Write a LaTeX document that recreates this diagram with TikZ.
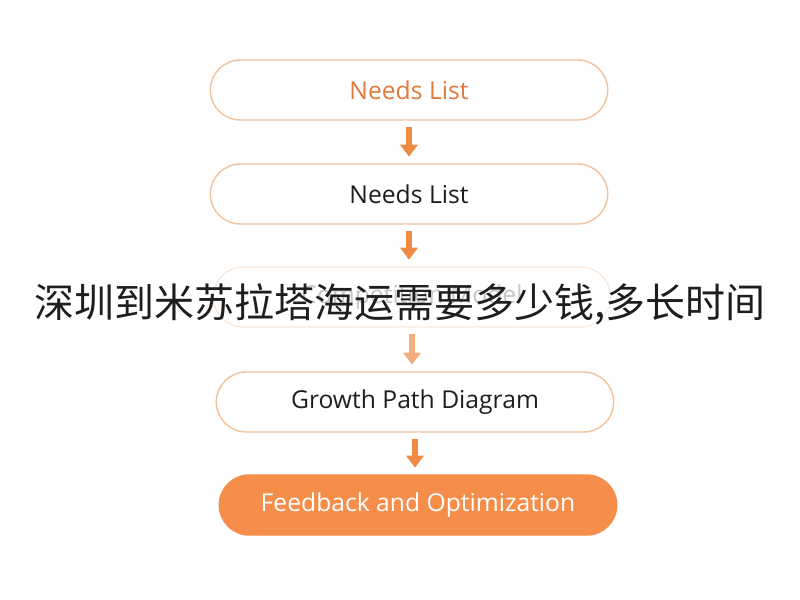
\documentclass[tikz,border=0pt]{standalone}
\usepackage{fontspec}
\setmainfont{Open Sans}
\newfontfamily\cjk{Noto Sans CJK SC}
\usetikzlibrary{arrows.meta}
\definecolor{orbd}{HTML}{F3C49C}
\definecolor{orfill}{HTML}{F58D4B}
\definecolor{orarr}{HTML}{EF8A45}
\definecolor{ortxt}{HTML}{E27A3A}
\definecolor{txt}{HTML}{1E1E1E}
\tikzset{
  pill/.style={draw=orbd, line width=1.1pt, rounded corners=22.5pt, minimum width=298pt, minimum height=45pt, fill=white, font=\fontsize{18.5}{20}\selectfont, text=txt},
  flow/.style={draw=orarr, line width=4pt, -{Triangle[length=9pt,width=13pt]}},
}
\begin{document}
\begin{tikzpicture}[x=0.75pt,y=-0.75pt]
\useasboundingbox (0,0) rectangle (800,600);
\node[pill, text=ortxt] (a) at (409,90) {Needs List};
\node[pill] (b) at (409,194) {Needs List};
\node[pill, draw=orbd!35, text=black!22] (c) at (412,297) {Competition Model};
\node[pill] (d) at (415,402) {Growth Path Diagram};
\node[pill, fill=orfill, draw=orfill, text=white] (e) at (418,505) {Feedback and Optimization};
\draw[flow] ([yshift=-5pt]a.south) -- ([yshift=5pt]a.south |- b.north);
\draw[flow] ([yshift=-5pt]b.south) -- ([yshift=5pt]b.south |- c.north);
\draw[flow, draw=orarr!70] ([yshift=-5pt]c.south) -- ([yshift=5pt]c.south |- d.north);
\draw[flow] ([yshift=-5pt]d.south) -- ([yshift=5pt]d.south |- e.north);
\node[font=\cjk\fontsize{30}{34}\selectfont, text=txt] (t) at (400,304) {深圳到米苏拉塔海运需要多少钱,多长时间};
\end{tikzpicture}
\end{document}
